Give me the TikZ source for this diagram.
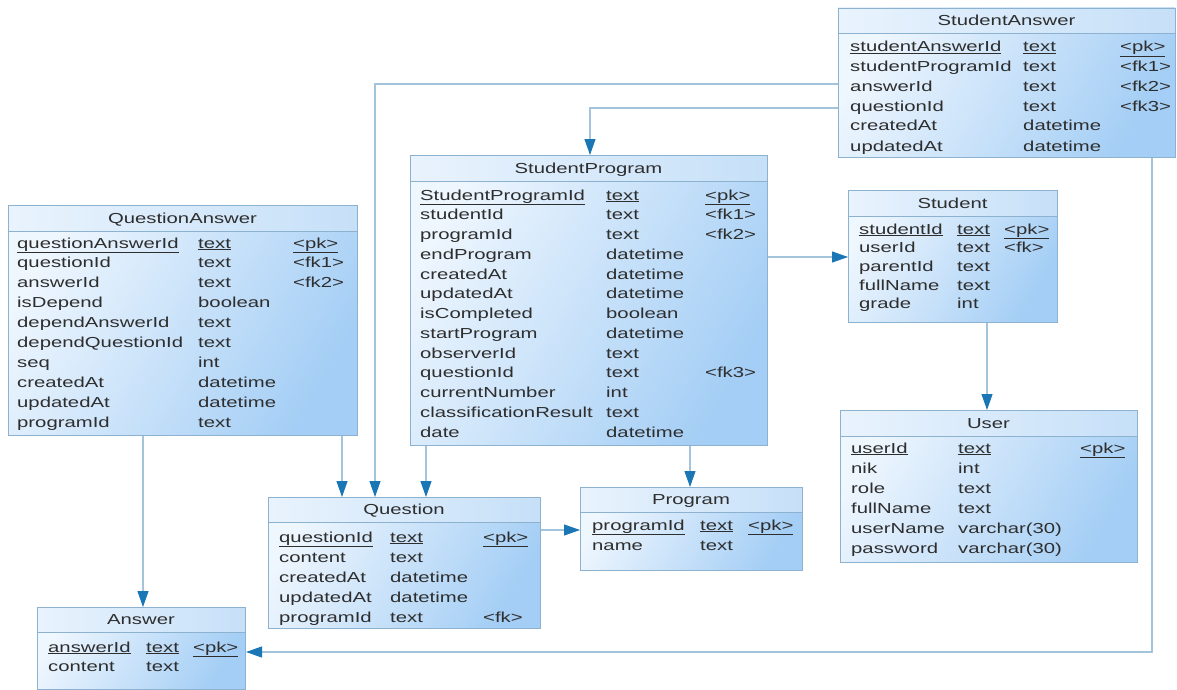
\documentclass[tikz,border=0pt]{standalone}
\usepackage{fontspec}
\setmainfont{Liberation Sans}[FakeStretch=1.4]
\usetikzlibrary{arrows.meta}
\definecolor{bord}{HTML}{8DB2D0}
\definecolor{fillA}{HTML}{EEF6FE}
\definecolor{fillB}{HTML}{A4CEF5}
\definecolor{headA}{HTML}{E9F3FD}
\definecolor{headB}{HTML}{C6E0F8}
\definecolor{connc}{HTML}{A3C4DB}
\definecolor{arrc}{HTML}{1B76B6}
\definecolor{txtc}{HTML}{2E2E2E}
\newcommand\tbl[7]{%
  \shade[bodyshade] (#2,#3) rectangle (#4,#5);
  \shade[headshade] (#2,#3) rectangle (#4,#6);
  \draw[hline] (#2,#6) -- (#4,#6);
  \node[tbox, anchor=north west, minimum width={#4-#2}, minimum height={#5-#3}] (#1) at (#2,#3) {};
  \node[ttl] (#1-t) at ({(#2+#4)/2},{(#3+#6)/2+5}) {#7};}
\newcommand\cols[3]{\def\cn{#1}\def\ct{#2}\def\ck{#3}}
\newcommand\rw[6]{%
  \node[cell] (#1-#2n) at (\cn,#3) {#4};
  \node[cell] (#1-#2t) at (\ct,#3) {#5};
  \if\relax\detokenize{#6}\relax\else\node[cell] (#1-#2k) at (\ck,#3) {#6};\fi}
\begin{document}
\begin{tikzpicture}[x=1pt,y=-1pt,
  tbox/.style={draw=bord, line width=1pt, rectangle, inner sep=0pt},
  bodyshade/.style={top color=fillA, bottom color=fillB, shading angle=60},
  headshade/.style={left color=headA, right color=headB},
  hline/.style={draw=bord, line width=0.9pt},
  ttl/.style={anchor=base, inner sep=0pt, text=txtc, font=\fontsize{14.5}{16}\selectfont},
  cell/.style={anchor=base west, inner sep=0pt, text=txtc, font=\fontsize{14.5}{16}\selectfont},
  conn/.style={draw=connc, line width=1.1pt, -{Triangle[length=16pt,width=11pt,color=arrc,fill=arrc]}}]
\useasboundingbox (0,0) rectangle (1177,690);
\fill[white] (0,0) rectangle (1177,690);

% ---------- tables ----------
\tbl{SA}{838}{8}{1175}{157}{33}{StudentAnswer}
\cols{850}{1023}{1120}
\rw{SA}{1}{52}{\underline{studentAnswerId}}{\underline{text}}{\underline{<pk>}}
\rw{SA}{2}{72}{studentProgramId}{text}{<fk1>}
\rw{SA}{3}{92}{answerId}{text}{<fk2>}
\rw{SA}{4}{112}{questionId}{text}{<fk3>}
\rw{SA}{5}{131}{createdAt}{datetime}{}
\rw{SA}{6}{151}{updatedAt}{datetime}{}

\tbl{SP}{410}{155}{767}{445}{181}{StudentProgram}
\cols{420}{606}{705}
\rw{SP}{1}{200}{\underline{StudentProgramId}}{\underline{text}}{\underline{<pk>}}
\rw{SP}{2}{219.75}{studentId}{text}{<fk1>}
\rw{SP}{3}{239.5}{programId}{text}{<fk2>}
\rw{SP}{4}{259.25}{endProgram}{datetime}{}
\rw{SP}{5}{279}{createdAt}{datetime}{}
\rw{SP}{6}{298.75}{updatedAt}{datetime}{}
\rw{SP}{7}{318.5}{isCompleted}{boolean}{}
\rw{SP}{8}{338.25}{startProgram}{datetime}{}
\rw{SP}{9}{358}{observerId}{text}{}
\rw{SP}{10}{377.75}{questionId}{text}{<fk3>}
\rw{SP}{11}{397.5}{currentNumber}{int}{}
\rw{SP}{12}{417.25}{classificationResult}{text}{}
\rw{SP}{13}{437}{date}{datetime}{}

\tbl{QA}{8}{205}{357}{435}{231}{QuestionAnswer}
\cols{17}{198}{293}
\rw{QA}{1}{248}{\underline{questionAnswerId}}{\underline{text}}{\underline{<pk>}}
\rw{QA}{2}{267.9}{questionId}{text}{<fk1>}
\rw{QA}{3}{287.8}{answerId}{text}{<fk2>}
\rw{QA}{4}{307.7}{isDepend}{boolean}{}
\rw{QA}{5}{327.6}{dependAnswerId}{text}{}
\rw{QA}{6}{347.5}{dependQuestionId}{text}{}
\rw{QA}{7}{367.4}{seq}{int}{}
\rw{QA}{8}{387.3}{createdAt}{datetime}{}
\rw{QA}{9}{407.2}{updatedAt}{datetime}{}
\rw{QA}{10}{427.1}{programId}{text}{}

\tbl{ST}{848}{190}{1057}{322}{216}{Student}
\cols{859}{957}{1004}
\rw{ST}{1}{234}{\underline{studentId}}{\underline{text}}{\underline{<pk>}}
\rw{ST}{2}{252.7}{userId}{text}{<fk>}
\rw{ST}{3}{271.4}{parentId}{text}{}
\rw{ST}{4}{290.1}{fullName}{text}{}
\rw{ST}{5}{308.8}{grade}{int}{}

\tbl{US}{840}{410}{1137}{562}{436}{User}
\cols{851}{958}{1080}
\rw{US}{1}{453}{\underline{userId}}{\underline{text}}{\underline{<pk>}}
\rw{US}{2}{473}{nik}{int}{}
\rw{US}{3}{493}{role}{text}{}
\rw{US}{4}{513}{fullName}{text}{}
\rw{US}{5}{533}{userName}{varchar(30)}{}
\rw{US}{6}{553}{password}{varchar(30)}{}

\tbl{QU}{268}{497}{540}{628}{522}{Question}
\cols{279}{390}{483}
\rw{QU}{1}{542}{\underline{questionId}}{\underline{text}}{\underline{<pk>}}
\rw{QU}{2}{562}{content}{text}{}
\rw{QU}{3}{582}{createdAt}{datetime}{}
\rw{QU}{4}{602}{updatedAt}{datetime}{}
\rw{QU}{5}{622}{programId}{text}{<fk>}

\tbl{PR}{580}{487}{802}{570}{512}{Program}
\cols{592}{700}{748}
\rw{PR}{1}{530}{\underline{programId}}{\underline{text}}{\underline{<pk>}}
\rw{PR}{2}{550}{name}{text}{}

\tbl{AN}{37}{607}{245}{689}{632}{Answer}
\cols{48}{146}{193}
\rw{AN}{1}{652}{\underline{answerId}}{\underline{text}}{\underline{<pk>}}
\rw{AN}{2}{671}{content}{text}{}

% ---------- connectors ----------
\coordinate (k1) at (590,108);
\coordinate (k2) at (375,84);
\coordinate (k3) at (1152,652);
\coordinate (k4) at (800,257);
\coordinate (k5) at (426,470);
\coordinate (k6) at (690,470);
\coordinate (k7) at (342,470);
\coordinate (k8) at (143,520);
\coordinate (k9) at (987,360);
\coordinate (k10) at (560,530);
\draw[conn] (SA.west |- k1) -- (k1) -- (k1 |- SP.north);
\draw[conn] (SA.west |- k2) -- (k2) -- (k2 |- QU.north);
\draw[conn] (k3 |- SA.south) -- (k3) -- (k3 -| AN.east);
\draw[conn] (SP.east |- k4) -- (ST.west |- k4);
\draw[conn] (k5 |- SP.south) -- (k5 |- QU.north);
\draw[conn] (k6 |- SP.south) -- (k6 |- PR.north);
\draw[conn] (k7 |- QA.south) -- (k7 |- QU.north);
\draw[conn] (k8 |- QA.south) -- (k8 |- AN.north);
\draw[conn] (k9 |- ST.south) -- (k9 |- US.north);
\draw[conn] (QU.east |- k10) -- (PR.west |- k10);
\end{tikzpicture}
\end{document}
